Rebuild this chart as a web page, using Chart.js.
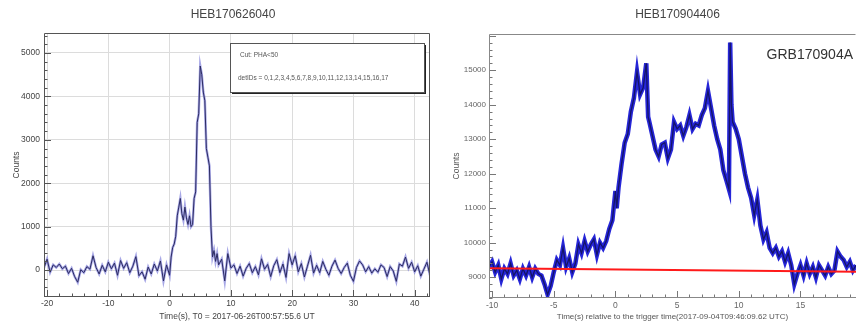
<!DOCTYPE html>
<html>
<head>
<meta charset="utf-8">
<script src="https://cdn.jsdelivr.net/npm/chart.js@4.4.0/dist/chart.umd.min.js"></script>
<style>
  body { margin: 0; background: #fff; }
  .panel { position: absolute; top: 0; height: 325px; }
  #left { left: 0; width: 431px; }
  #right { left: 432px; width: 424px; }
</style>
</head>
<body>
<div class="panel" id="left"><canvas id="lcLeft"></canvas></div>
<div class="panel" id="right"><canvas id="lcRight"></canvas></div>
<script>
// Light curve HEB170626040

const leftTimes = [
    -20.5, -20, -19.5, -19, -18.5, -18, -17.5, -17, -16.5, -16,
    -15.5, -15, -14.5, -14, -13.5, -13, -12.5, -12, -11.5, -11,
    -10.5, -10, -9.5, -9, -8.5, -8, -7.5, -7, -6.5, -6,
    -5.5, -5, -4.5, -4, -3.5, -3, -2.5, -2, -1.5, -1,
    -0.5, 0, 0.25, 0.5, 0.75, 1, 1.25, 1.5, 1.75, 2,
    2.25, 2.5, 2.75, 3, 3.25, 3.5, 3.75, 4, 4.25, 4.5,
    4.75, 5, 5.25, 5.5, 5.75, 6, 6.25, 6.5, 6.75, 7,
    7.25, 7.5, 7.75, 8, 8.5, 9, 9.5, 10, 10.5, 11,
    11.5, 12, 12.5, 13, 13.5, 14, 14.5, 15, 15.5, 16,
    16.5, 17, 17.5, 18, 18.5, 19, 19.5, 20, 20.5, 21,
    21.5, 22, 22.5, 23, 23.5, 24, 24.5, 25, 25.5, 26,
    26.5, 27, 27.5, 28, 28.5, 29, 29.5, 30, 30.5, 31,
    31.5, 32, 32.5, 33, 33.5, 34, 34.5, 35, 35.5, 36,
    36.5, 37, 37.5, 38, 38.5, 39, 39.5, 40, 40.5, 41,
    41.5, 42, 42.5
];
const leftCounts = [
    50, 250, -50, 120, 60, 140, 30, 90, -80, 40,
    -150, -280, 10, -60, 80, 20, 330, 60, -90, 110,
    -40, 180, 30, 160, -120, 220, 40, 170, -60, 90,
    310, -130, -40, -210, 70, -90, 140, -20, 210, -250,
    120, -120, 300, 520, 600, 780, 1250, 1450, 1650, 1300,
    1150, 1450, 1200, 1050, 1250, 1000, 1050, 1650, 1800, 3400,
    3600, 4700, 4500, 4100, 3900, 2800, 2600, 2400, 1000, 300,
    450, 200, 380, 120, 250, -250, 380, 50, 120, -80,
    90, -140, 40, 150, -60, 80, -110, 260, 20, 130,
    -150, 100, 240, -60, 140, -170, 380, 120, 330, -40,
    150, -160, 90, 340, -70, 110, -60, 200, 20, -120,
    90, 230, 40, -80, 60, 160, -120, -260, 60, 210,
    120, -40, 80, -70, 30, -50, 120, 60, -150, 80,
    -20, -260, 140, 90, 300, 40, 180, -40, 100, -140,
    20, 180, -120
];

// Light curve HEB170904406 (GRB170904A)

const rightTimes = [
    -10.25, -10, -9.75, -9.5, -9.25, -9, -8.75, -8.5, -8.25, -8,
    -7.75, -7.5, -7.25, -7, -6.75, -6.5, -6.25, -6, -5.75, -5.5,
    -5.25, -5, -4.75, -4.5, -4.25, -4, -3.75, -3.5, -3.25, -3,
    -2.75, -2.5, -2.25, -2, -1.75, -1.5, -1.25, -1, -0.75, -0.5,
    -0.25, 0, 0.1, 0.25, 0.5, 0.75, 1, 1.25, 1.5, 1.75,
    2, 2.25, 2.5, 2.65, 2.75, 3, 3.25, 3.5, 3.75, 4,
    4.25, 4.5, 4.75, 5, 5.25, 5.5, 5.75, 6, 6.25, 6.5,
    6.75, 7, 7.25, 7.5, 7.75, 8, 8.25, 8.5, 8.75, 9,
    9.2, 9.3, 9.4, 9.5, 9.75, 10, 10.25, 10.5, 10.75, 11,
    11.25, 11.5, 11.75, 12, 12.25, 12.5, 12.75, 13, 13.25, 13.5,
    13.75, 14, 14.25, 14.5, 14.75, 15, 15.25, 15.5, 15.75, 16,
    16.25, 16.5, 16.75, 17, 17.25, 17.5, 17.75, 18, 18.25, 18.5,
    18.75, 19, 19.25, 19.5
];
const rightCounts = [
    9300, 9450, 9150, 9350, 8950, 9250, 9100, 9400, 9050, 9200,
    8950, 9250, 9050, 9300, 9000, 9250, 9100, 9050, 8800, 8500,
    8750, 9150, 9500, 9350, 9850, 9300, 9550, 9150, 9400, 9950,
    9700, 10050, 9750, 9950, 10100, 9650, 10000, 9850, 10050, 10400,
    10650, 11500, 11000, 11600, 12300, 12900, 13150, 13800, 14200, 14950,
    14300, 14500, 15200, 13650, 13500, 13100, 12700, 12500, 12850, 12900,
    12450, 12700, 13500, 13300, 13400, 13100, 13350, 13700, 13300, 13450,
    13400, 13700, 13900, 14400, 13900, 13400, 13000, 12700, 12100, 11800,
    11550, 15800, 14000, 13500, 13300, 13000, 12500, 12000, 11600, 11300,
    10800, 11250, 10500, 10100, 10300, 9850, 9700, 9850, 9600, 9750,
    9450, 9700, 9350, 8800, 9100, 9350, 9050, 9400, 9100, 9300,
    9000, 9350, 9200, 9050, 9300, 9100, 9200, 9750, 9600, 9500,
    9300, 9450, 9200, 9350
];

// background fit (red line)
const bkgTimes = [-10.25, 19.5];
const bkgCounts = [9260, 9160];

const leftTicksX = [-20, -10, 0, 10, 20, 30, 40];
const leftTicksY = [0, 1000, 2000, 3000, 4000, 5000];
const rightTicksX = [-10, -5, 0, 5, 10, 15];
const rightTicksY = [9000, 10000, 11000, 12000, 13000, 14000, 15000];

const FONT = "'Liberation Sans', Arial, sans-serif";

const toXY = (xs, ys) => xs.map((t, i) => ({ x: t, y: ys[i] }));

// ROOT-like frame, inner tick marks, titles and text boxes
const rootStyle = {
    id: "rootStyle",
    afterDraw(chart, args, o) {
        const { ctx, chartArea: a, scales: { x, y } } = chart;
        ctx.save();
        ctx.strokeStyle = o.tickColor;
        ctx.lineWidth = 1;
        ctx.beginPath();
        for (let i = Math.ceil(x.min / o.xMinor); i * o.xMinor <= x.max; i++) {
            const px = Math.round(x.getPixelForValue(i * o.xMinor)) + 0.5;
            const len = i % o.xEvery === 0 ? 7 : 3.5;
            ctx.moveTo(px, a.bottom);
            ctx.lineTo(px, a.bottom - len);
        }
        for (let i = Math.ceil(y.min / o.yMinor); i * o.yMinor <= y.max; i++) {
            const py = Math.round(y.getPixelForValue(i * o.yMinor)) + 0.5;
            const len = i % o.yEvery === 0 ? 7 : 3.5;
            ctx.moveTo(a.left, py);
            ctx.lineTo(a.left + len, py);
        }
        ctx.stroke();

        ctx.strokeStyle = o.frameColor;
        ctx.beginPath();
        ctx.moveTo(a.left + 0.5, a.bottom - 0.5);
        ctx.lineTo(a.left + 0.5, a.top + 0.5);
        ctx.lineTo(a.right - 0.5, a.top + 0.5);
        if (o.rightEdge) ctx.lineTo(a.right - 0.5, a.bottom - 0.5);
        ctx.moveTo(a.left, a.bottom - 0.5);
        ctx.lineTo(a.right, a.bottom - 0.5);
        ctx.stroke();

        ctx.fillStyle = "#444";
        ctx.font = "12px " + FONT;
        ctx.textAlign = "center";
        ctx.textBaseline = "middle";
        ctx.fillText(o.title, (a.left + a.right) / 2 + o.titleDx, 15);

        if (o.box) {
            const w = 194, h = 49;
            const bx = a.right - 6 - w, by = a.top + 10;
            ctx.fillStyle = "#222";
            ctx.fillRect(bx + 2, by + 2, w, h);
            ctx.fillStyle = "#fff";
            ctx.fillRect(bx, by, w, h);
            ctx.strokeStyle = "#555";
            ctx.strokeRect(bx + 0.5, by + 0.5, w, h);
            ctx.fillStyle = "#555";
            ctx.font = "6.5px " + FONT;
            ctx.textAlign = "left";
            ctx.fillText(o.box[0], bx + 10, by + 12);
            ctx.fillText(o.box[1], bx + 8, by + 35);
        }
        if (o.label) {
            ctx.fillStyle = "#333";
            ctx.font = "14px " + FONT;
            ctx.textAlign = "right";
            ctx.fillText(o.label, a.right - 3, a.top + 21);
        }
        ctx.restore();
    }
};

const onlyTicks = list => scale => {
    scale.ticks = list.map(v => ({ value: v }));
};

// Left chart
new Chart(document.getElementById("lcLeft"), {
    type: "line",
    data: {
        datasets: [{
            data: toXY(leftTimes, leftCounts),
            borderColor: "#2a2a60",
            borderWidth: 1
        }, {
            data: toXY(leftTimes, leftCounts),
            borderColor: "rgba(130,130,220,0.7)",
            borderWidth: 2.5
        }]
    },
    options: {
        responsive: true,
        maintainAspectRatio: false,
        animation: false,
        layout: { padding: { top: 33, right: 1, left: 0, bottom: 0 } },
        elements: { point: { radius: 0 }, line: { tension: 0 } },
        plugins: {
            legend: { display: false },
            tooltip: { enabled: false },
            rootStyle: {
                title: "HEB170626040", titleDx: -4,
                xMinor: 2, xEvery: 5, yMinor: 200, yEvery: 5,
                tickColor: "#555", frameColor: "#555", rightEdge: true,
                box: ["Cut: PHA<50", "detIDs = 0,1,2,3,4,5,6,7,8,9,10,11,12,13,14,15,16,17"]
            }
        },
        scales: {
            x: {
                type: "linear",
                min: -20.5,
                max: 42.5,
                afterBuildTicks: onlyTicks(leftTicksX),
                afterFit: s => { s.height = 28; },
                border: { display: false },
                grid: { color: "#dcdcdc", drawTicks: false },
                ticks: { padding: 2, color: "#444", font: { family: FONT, size: 8.5 } },
                title: {
                    display: true,
                    text: "Time(s), T0 = 2017-06-26T00:57:55.6 UT",
                    color: "#444",
                    font: { family: FONT, size: 8.5 },
                    padding: { top: 0, bottom: 3 }
                }
            },
            y: {
                min: -620,
                max: 5460,
                afterBuildTicks: onlyTicks(leftTicksY),
                ticks: {
                    padding: 4, color: "#444", font: { family: FONT, size: 8.5 },
                    callback: v => String(v)
                },
                afterFit: s => { s.width = 44; },
                border: { display: false },
                grid: { color: "#dcdcdc", drawTicks: false },
                title: {
                    display: true,
                    text: "Counts",
                    color: "#444",
                    font: { family: FONT, size: 8.5 },
                    padding: { top: 12, bottom: 0 }
                }
            }
        }
    },
    plugins: [rootStyle]
});

// Right chart
new Chart(document.getElementById("lcRight"), {
    type: "line",
    data: {
        datasets: [{
            data: toXY(bkgTimes, bkgCounts),
            borderColor: "#ff1a1a",
            borderWidth: 2
        }, {
            data: toXY(rightTimes, rightCounts),
            borderColor: "#141468",
            borderWidth: 1.3
        }, {
            data: toXY(rightTimes, rightCounts),
            borderColor: "#2626d8",
            borderWidth: 4.5
        }]
    },
    options: {
        responsive: true,
        maintainAspectRatio: false,
        animation: false,
        layout: { padding: { top: 34, right: 0, left: 0, bottom: 0 } },
        elements: { point: { radius: 0 }, line: { tension: 0 } },
        plugins: {
            legend: { display: false },
            tooltip: { enabled: false },
            rootStyle: {
                title: "HEB170904406", titleDx: 5,
                xMinor: 1, xEvery: 5, yMinor: 200, yEvery: 5,
                tickColor: "#777", frameColor: "#888", rightEdge: false,
                label: "GRB170904A"
            }
        },
        scales: {
            x: {
                type: "linear",
                min: -10.25,
                max: 19.5,
                afterBuildTicks: onlyTicks(rightTicksX),
                afterFit: s => { s.height = 27; },
                border: { display: false },
                grid: { display: false, drawTicks: false },
                ticks: { padding: 3, color: "#666", font: { family: FONT, size: 8.5 } },
                title: {
                    display: true,
                    text: "Time(s) relative to the trigger time(2017-09-04T09:46:09.62 UTC)",
                    color: "#555",
                    font: { family: FONT, size: 8 },
                    padding: { top: 0, bottom: 3 }
                }
            },
            y: {
                min: 8400,
                max: 16050,
                afterBuildTicks: onlyTicks(rightTicksY),
                ticks: {
                    padding: 3, color: "#666", font: { family: FONT, size: 8 },
                    callback: v => String(v)
                },
                afterFit: s => { s.width = 57; },
                border: { display: false },
                grid: { display: false, drawTicks: false },
                title: {
                    display: true,
                    text: "Counts",
                    color: "#555",
                    font: { family: FONT, size: 8.5 },
                    padding: { top: 20, bottom: 0 }
                }
            }
        }
    },
    plugins: [rootStyle]
});
</script>
</body>
</html>
